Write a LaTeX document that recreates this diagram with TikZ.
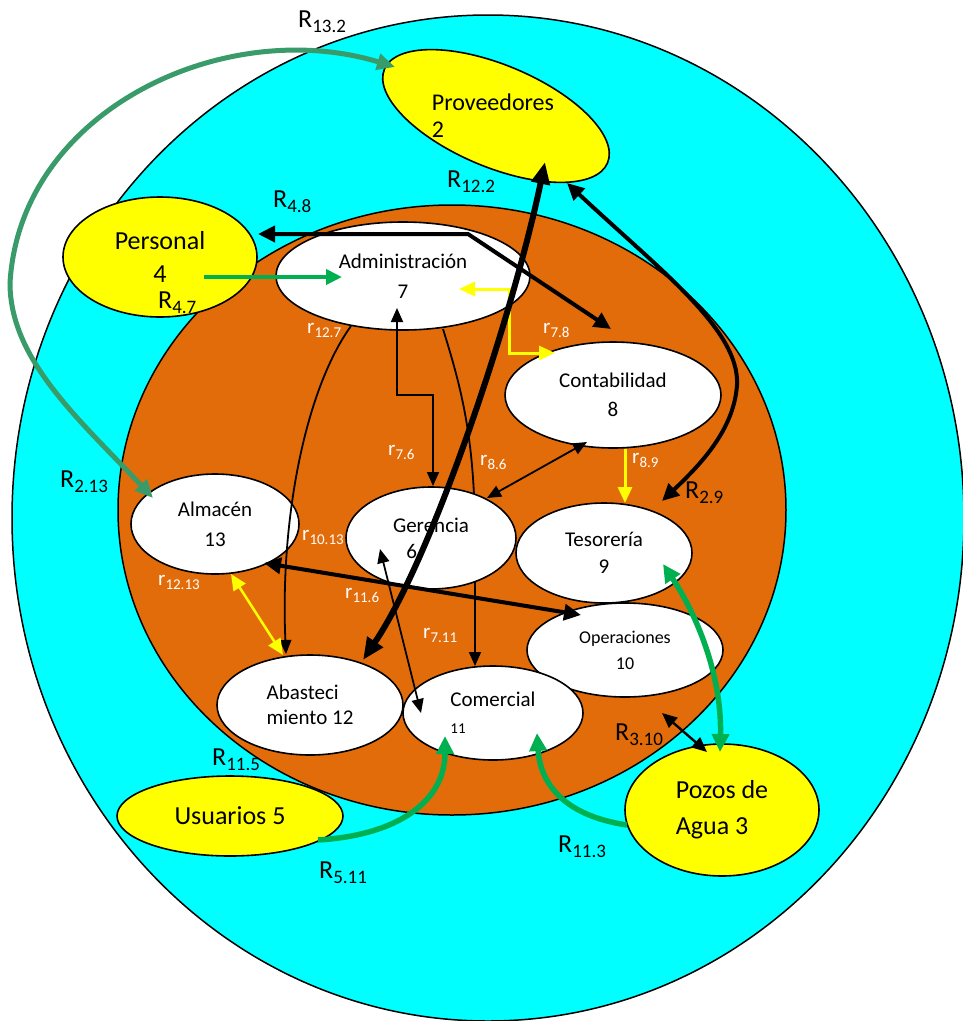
\documentclass[tikz,border=0pt]{standalone}
\usepackage{fontspec}
\setmainfont{Carlito}
\usetikzlibrary{shapes.geometric,arrows.meta}
\definecolor{skycyan}{RGB}{0,255,255}
\definecolor{rust}{RGB}{227,108,10}
\definecolor{lemon}{RGB}{255,255,0}
\definecolor{leaf}{RGB}{0,176,80}
\definecolor{moss}{RGB}{56,155,105}
% relation labels: capital R (external) and small r (internal)
\newcommand\Rs[1]{R\raisebox{-5pt}{\fontsize{19}{19}\selectfont #1}}
\newcommand\rs[1]{r\raisebox{-4pt}{\fontsize{15}{15}\selectfont #1}}
\begin{document}
\begin{tikzpicture}[x=1pt,y=-1pt,
  wnode/.style={ellipse, draw=black, fill=white, line width=1.6pt, inner sep=0pt, align=center},
  ynode/.style={ellipse, draw=black, fill=lemon, line width=1.6pt, inner sep=0pt},
  Rlab/.style={inner sep=0pt, anchor=base west, font=\fontsize{26}{30}\selectfont},
  rlab/.style={inner sep=0pt, anchor=base west, text=white, font=\fontsize{21}{25}\selectfont},
  thinlink/.style={draw=black, line width=1.8pt, >={Triangle[length=14pt,width=12pt]}},
  midlink/.style={draw=black, line width=2.4pt, >={Triangle[length=15pt,width=13pt]}},
  boldlink/.style={draw=black, line width=4pt, >={Triangle[length=17pt,width=16pt]}},
  heavylink/.style={draw=black, line width=6pt, >={Triangle[length=22pt,width=18pt]}},
  yellink/.style={draw=lemon, line width=3pt, >={Triangle[length=16pt,width=14pt]}},
  leaflink/.style={draw=leaf, line width=4pt, >={Triangle[length=16pt,width=15pt]}},
  leafbold/.style={draw=leaf, line width=5.5pt, >={Triangle[length=18pt,width=17pt]}},
  mosslink/.style={draw=moss, line width=5pt, >={Triangle[length=18pt,width=16pt]}}
]
\path[use as bounding box, fill=white] (0,0) rectangle (963,1021);

% environment and organisation
\path[fill=skycyan, draw=black, line width=1.5pt] (488,518) ellipse [x radius=476, y radius=503];
\path[fill=rust, draw=black, line width=1.5pt] (452,510) ellipse [x radius=334, y radius=305];

% external entities
\node[ynode, minimum width=194pt, minimum height=120pt, align=center, font=\fontsize{26}{33}\selectfont] (per) at (160,257) {Personal\\4};
\node[ynode, minimum width=242pt, minimum height=102pt, rotate=-22.8] (prov) at (496,116) {};
\node[inner sep=0pt, align=left, font=\fontsize{24}{27}\selectfont] (provtxt) at (493,116) {Proveedores\\2};
\node[ynode, minimum width=226pt, minimum height=80pt, font=\fontsize{26}{30}\selectfont] (usu) at (230,816) {Usuarios 5};
\node[ynode, minimum width=194pt, minimum height=132pt, align=left, font=\fontsize{26}{36}\selectfont] (poz) at (722,810) {Pozos de\\Agua 3};

% internal departments
\node[wnode, minimum width=254pt, minimum height=108pt, font=\fontsize{21}{30}\selectfont] (adm) at (403,276) {Administración\\7};
\node[wnode, minimum width=216pt, minimum height=106pt, font=\fontsize{21}{29}\selectfont] (con) at (613,395) {Contabilidad\\8};
\node[wnode, minimum width=176pt, minimum height=100pt, font=\fontsize{21}{27}\selectfont] (tes) at (604,553) {Tesorería\\9};
\node[wnode, minimum width=168pt, minimum height=100pt, font=\fontsize{21}{30}\selectfont] (alm) at (215,524) {Almacén\\13};
\node[wnode, minimum width=196pt, minimum height=94pt, font=\fontsize{18}{26}\selectfont] (ope) at (625,650) {Operaciones\\10};
\node[wnode, minimum width=186pt, minimum height=100pt, align=left, font=\fontsize{21}{25}\selectfont] (aba) at (310,705) {Abasteci\\miento 12};
\node[wnode, minimum width=180pt, minimum height=94pt, align=left, font=\fontsize{21}{27}\selectfont] (com) at (493,713) {Comercial\\{\fontsize{15}{15}\selectfont 11}};

% r7.11 runs behind Gerencia
\draw[thinlink, ->] ([shift={(40,53)}]adm.center) .. controls (462,390) and (475,440) .. (475,540) -- ([shift={(-18,-47)}]com.center);
\node[wnode, minimum width=170pt, minimum height=102pt, font=\fontsize{21}{26}\selectfont] (ger) at (431,538) {Gerencia\\\llap{6\hspace{14pt}}};

% internal relations
\draw[yellink, <->] ([shift={(56,13)}]adm.center) -- (509,289) -- (509,353) -- ([shift={(-58,-42)}]con.center);
\draw[thinlink, <->] ([shift={(-6,32)}]adm.center) -- (397,395) -- (433,395) -- ([shift={(2,-52)}]ger.center);
\draw[thinlink, ->] ([shift={(-52,50)}]adm.center) .. controls (305,390) and (280,520) .. ([shift={(-24,-51)}]aba.center);
\draw[thinlink, <->] ([shift={(-26,47)}]con.center) -- ([shift={(56,-40)}]ger.center);
\draw[yellink, ->] ([shift={(12,54)}]con.center) -- ([shift={(21,-50)}]tes.center);
\draw[boldlink, <->] ([shift={(49,39)}]alm.center) -- ([shift={(-44,-35)}]ope.center);
\draw[thinlink, <->] ([shift={(-51,11)}]ger.center) -- ([shift={(-72,0)}]com.center);
\draw[yellink, line width=2.5pt, <->] ([shift={(16,50)}]alm.center) -- ([shift={(-27,-50)}]aba.center);

% external relations
\draw[mosslink, <->] ([shift={(-101,-49)}]prov.center) .. controls (225,15) and (20,110) .. (10,283) .. controls (10,360) and (80,420) .. ([shift={(-62,-26)}]alm.center);
\draw[boldlink, <->] ([shift={(98,-23)}]per.center) -- (468,234) -- ([shift={(-2,-66)}]con.center);
\draw[leaflink, ->] ([shift={(44,20)}]per.center) -- ([shift={(-61,1)}]adm.center);
\draw[boldlink, <->] ([shift={(71,67)}]prov.center) .. controls (660,270) and (740,330) .. (737,385) .. controls (734,430) and (700,465) .. ([shift={(58,-52)}]tes.center);
\draw[midlink, <->] ([shift={(37,63)}]ope.center) -- ([shift={(-15,-58)}]poz.center);
\draw[leafbold, <->] ([shift={(59,11)}]tes.center) .. controls (700,620) and (722,680) .. ([shift={(-2,-58)}]poz.center);
\draw[leafbold, ->] ([shift={(88,24)}]usu.center) .. controls (400,835) and (445,800) .. ([shift={(-48,23)}]com.center);
\draw[leafbold, ->] ([shift={(-95,15)}]poz.center) .. controls (560,815) and (540,780) .. ([shift={(44,20)}]com.center);
\draw[heavylink, <->] ([shift={(53,-45)}]aba.center) .. controls (433,556) and (513,315) .. ([shift={(49,46)}]prov.center);

% labels of external relations
\node[Rlab] (lR132) at (298,27) {\Rs{13.2}};
\node[Rlab] (lR122) at (447,187) {\Rs{12.2}};
\node[Rlab] (lR48) at (273,207) {\Rs{4.8}};
\node[Rlab] (lR47) at (158,308) {\Rs{4.7}};
\node[Rlab] (lR213) at (60,487) {\Rs{2.13}};
\node[Rlab] (lR115) at (212,765) {\Rs{11.5}};
\node[Rlab] (lR511) at (319,878) {\Rs{5.11}};
\node[Rlab] (lR113) at (558,852) {\Rs{11.3}};
\node[Rlab] (lR310) at (615,740) {\Rs{3.10}};
\node[Rlab] (lR29) at (685,498) {\Rs{2.9}};

% labels of internal relations
\node[rlab] (lr127) at (307,333) {\rs{12.7}};
\node[rlab] (lr78) at (543,333) {\rs{7.8}};
\node[rlab] (lr76) at (388,455) {\rs{7.6}};
\node[rlab] (lr86) at (480,465) {\rs{8.6}};
\node[rlab] (lr89) at (632,463) {\rs{8.9}};
\node[rlab] (lr1013) at (302,540) {\rs{10.13}};
\node[rlab] (lr1213) at (158,585) {\rs{12.13}};
\node[rlab] (lr116) at (345,598) {\rs{11.6}};
\node[rlab] (lr711) at (423,638) {\rs{7.11}};
\end{tikzpicture}
\end{document}
